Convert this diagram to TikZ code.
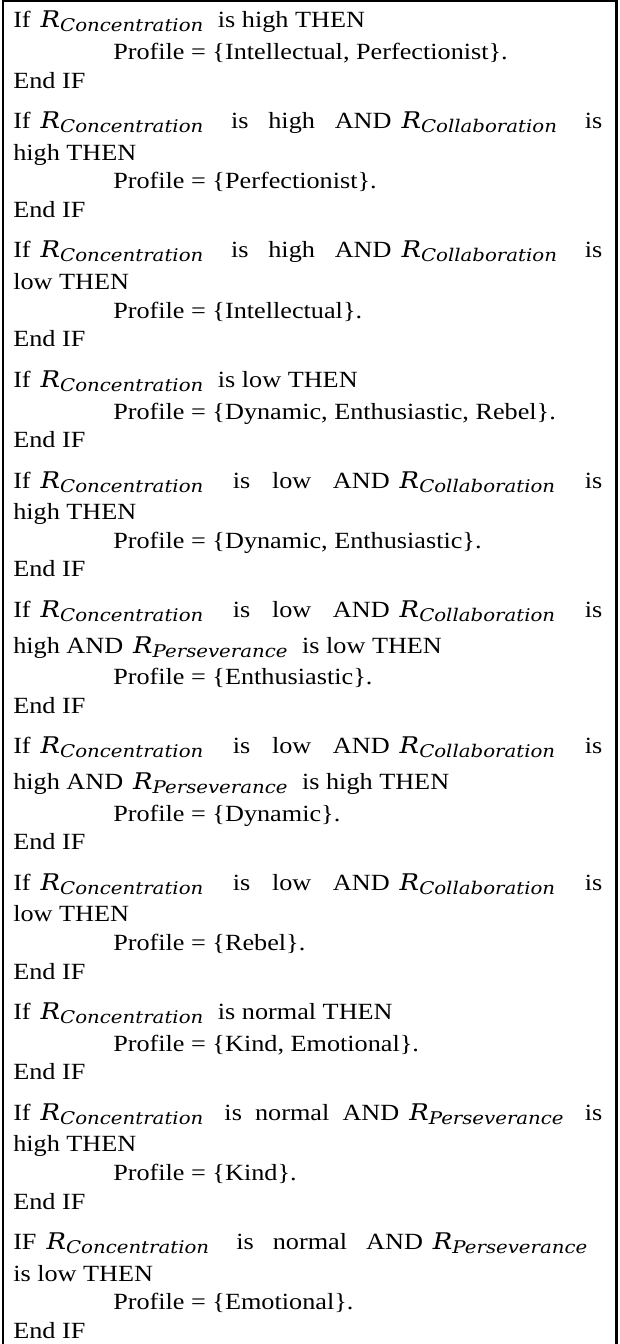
\documentclass[tikz,border=0pt]{standalone}
\usepackage{fontspec}
\setmainfont[FakeStretch=1.13]{Liberation Serif}
\newfontfamily\mathfnt[FakeStretch=1.13]{DejaVu Serif}
\newcommand{\Rsub}[1]{\hspace{7.5pt}{\mathfnt\itshape\fontsize{17.2pt}{20pt}\selectfont R}\raisebox{-3pt}{\mathfnt\itshape\fontsize{13.1pt}{15pt}\selectfont #1}\hspace{6pt}}
\newcommand{\jline}[1]{\hbox to 441.75pt{#1}}
\tikzset{
  txt/.style={anchor=base west, inner sep=0pt, font=\fontsize{17.4pt}{20pt}\selectfont},
  prof/.style={txt},
  frame/.style={line width=1.9pt, line join=miter}
}
\begin{document}
\begin{tikzpicture}[x=0.75pt,y=-0.75pt]
\useasboundingbox (0,0) rectangle (620,1344);
\draw[frame] (2.8,1344) -- (2.8,1.2) -- (616.3,1.2) -- (616.3,1344);
% rule 1
\node[txt] (l1) at (13,28) {If\Rsub{Concentration} is high THEN};
\node[prof] (l2) at (113,59.7) {Profile = \{Intellectual, Perfectionist\}.};
\node[txt] (l3) at (13,88.3) {End IF};
% rule 2
\node[txt] (l4) at (13,128.7) {\jline{If\Rsub{Concentration} is high AND\Rsub{Collaboration} is}};
\node[txt] (l5) at (13,160.4) {high THEN};
\node[prof] (l6) at (113,189) {Profile = \{Perfectionist\}.};
\node[txt] (l7) at (13,217.6) {End IF};
% rule 3
\node[txt] (l8) at (13,258) {\jline{If\Rsub{Concentration} is high AND\Rsub{Collaboration} is}};
\node[txt] (l9) at (13,289.7) {low THEN};
\node[prof] (l10) at (113,318.3) {Profile = \{Intellectual\}.};
\node[txt] (l11) at (13,346.9) {End IF};
% rule 4
\node[txt] (l12) at (13,387.3) {If\Rsub{Concentration} is low THEN};
\node[prof] (l13) at (113,419) {Profile = \{Dynamic, Enthusiastic, Rebel\}.};
\node[txt] (l14) at (13,447.6) {End IF};
% rule 5
\node[txt] (l15) at (13,488) {\jline{If\Rsub{Concentration} is low AND\Rsub{Collaboration} is}};
\node[txt] (l16) at (13,519.7) {high THEN};
\node[prof] (l17) at (113,548.3) {Profile = \{Dynamic, Enthusiastic\}.};
\node[txt] (l18) at (13,576.9) {End IF};
% rule 6
\node[txt] (l19) at (13,617.3) {\jline{If\Rsub{Concentration} is low AND\Rsub{Collaboration} is}};
\node[txt] (l20) at (13,653) {high AND\Rsub{Perseverance} is low THEN};
\node[prof] (l21) at (113,684.7) {Profile = \{Enthusiastic\}.};
\node[txt] (l22) at (13,713.3) {End IF};
% rule 7
\node[txt] (l23) at (13,753.7) {\jline{If\Rsub{Concentration} is low AND\Rsub{Collaboration} is}};
\node[txt] (l24) at (13,789.4) {high AND\Rsub{Perseverance} is high THEN};
\node[prof] (l25) at (113,821.1) {Profile = \{Dynamic\}.};
\node[txt] (l26) at (13,849.7) {End IF};
% rule 8
\node[txt] (l27) at (13,890.1) {\jline{If\Rsub{Concentration} is low AND\Rsub{Collaboration} is}};
\node[txt] (l28) at (13,921.8) {low THEN};
\node[prof] (l29) at (113,950.4) {Profile = \{Rebel\}.};
\node[txt] (l30) at (13,979) {End IF};
% rule 9
\node[txt] (l31) at (13,1019.4) {If\Rsub{Concentration} is normal THEN};
\node[prof] (l32) at (113,1051.1) {Profile = \{Kind, Emotional\}.};
\node[txt] (l33) at (13,1079.7) {End IF};
% rule 10
\node[txt] (l34) at (13,1120.1) {\jline{If\Rsub{Concentration} is normal AND\Rsub{Perseverance} is}};
\node[txt] (l35) at (13,1151.8) {high THEN};
\node[prof] (l36) at (113,1180.4) {Profile = \{Kind\}.};
\node[txt] (l37) at (13,1209) {End IF};
% rule 11
\node[txt] (l38) at (13,1249.4) {\hbox to 430.5pt{IF\Rsub{Concentration} is normal AND\Rsub{Perseverance}\unskip}};
\node[txt] (l39) at (13,1281.1) {is low THEN};
\node[prof] (l40) at (113,1309.7) {Profile = \{Emotional\}.};
\node[txt] (l41) at (13,1338.3) {End IF};
\end{tikzpicture}
\end{document}
